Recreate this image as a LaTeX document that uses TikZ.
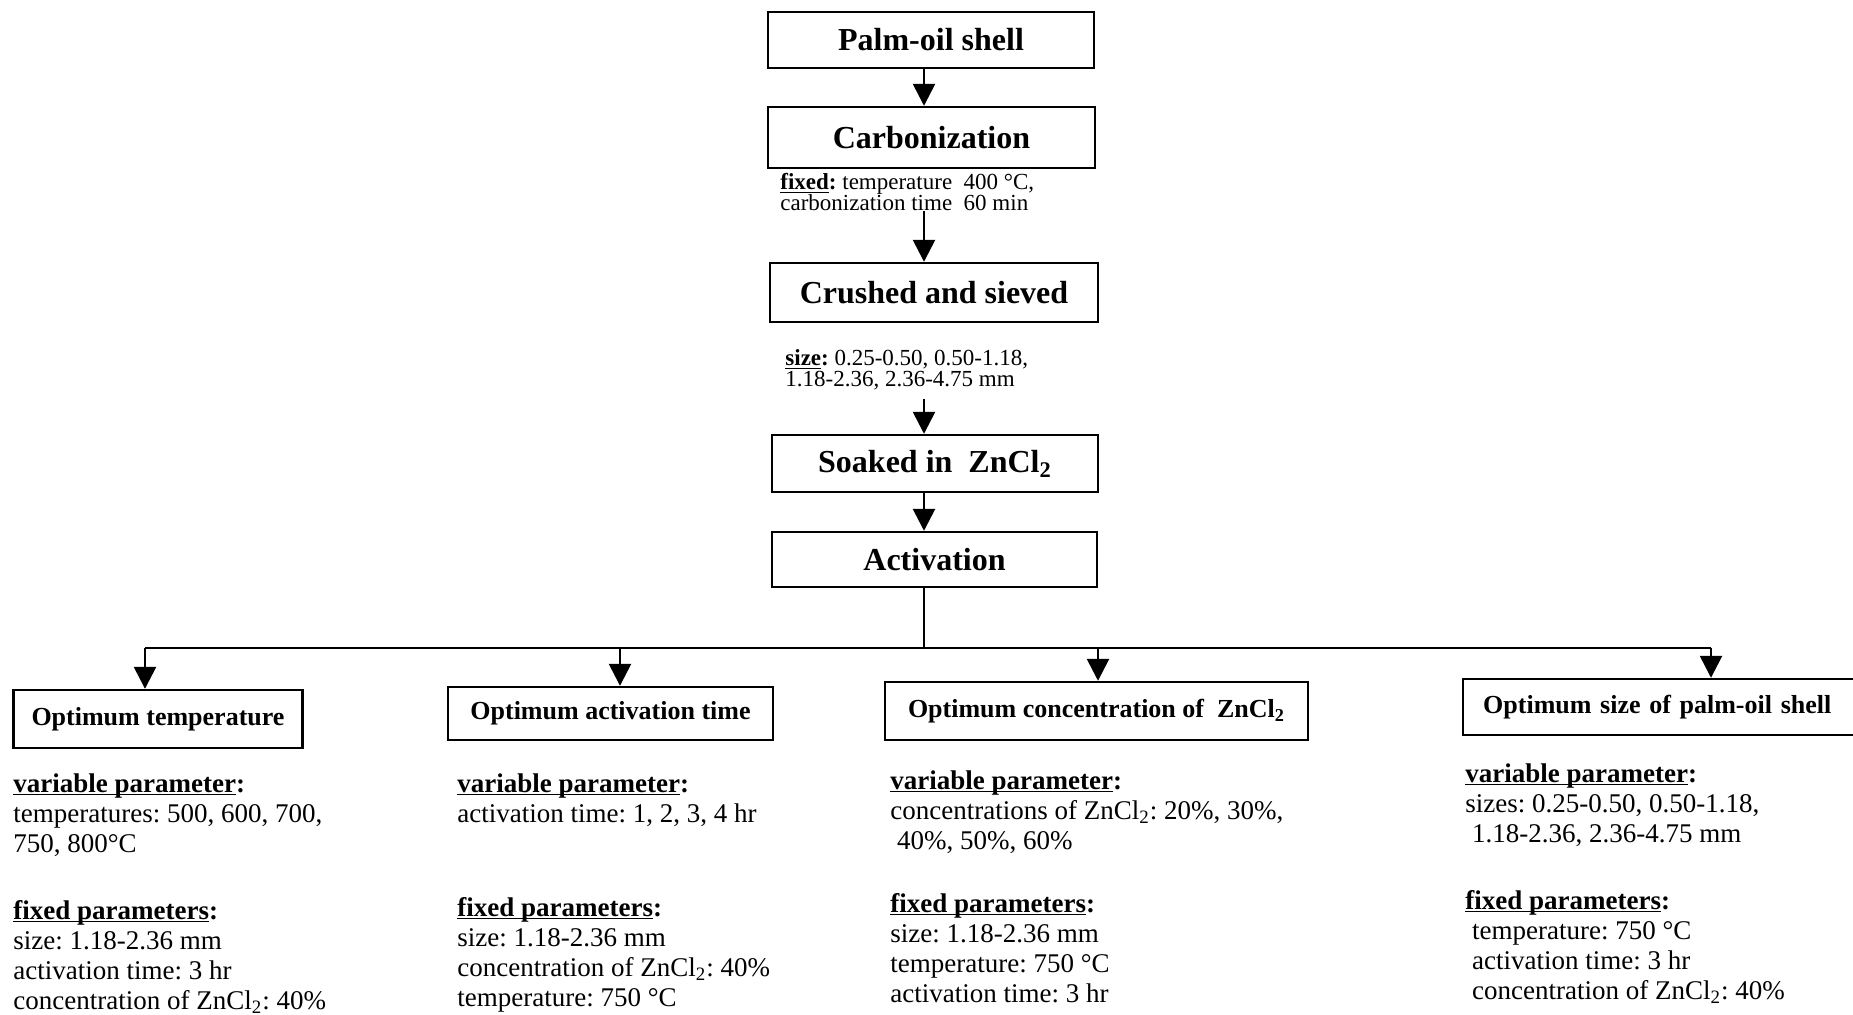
\documentclass[tikz,border=0pt]{standalone}
\usepackage{fontspec}
\setmainfont{Liberation Serif}
\usetikzlibrary{arrows.meta, positioning}
\newcommand{\uword}[1]{\underline{\smash{\textbf{#1}}}\textbf{:}}
\frenchspacing

\begin{document}
\begin{tikzpicture}
			[x=0.5pt, y=-0.5pt,
			box/.style={draw, line width=1.2pt, inner sep=0pt, font=\fontsize{16}{18}\selectfont\bfseries},
			optbox/.style={draw, line width=1.2pt, inner sep=0pt, font=\fontsize{13}{15}\selectfont\bfseries},
			note/.style={anchor=north west, inner sep=0pt, align=left, font=\fontsize{11.5}{10.5}\selectfont},
			param/.style={anchor=north west, inner sep=0pt, align=left, font=\fontsize{13.5}{15}\selectfont},
			arr/.style={line width=1.3pt, -{Triangle[width=11pt, length=11pt]}},
			link/.style={line width=1.3pt}]
			\path[use as bounding box, clip] (0,0) rectangle (1853,1015);

			\node[box, minimum width=163pt, minimum height=28pt] (palm) at (931,40) {Palm-oil shell};
			\node[box, minimum width=163.5pt, minimum height=30.5pt] (carb) at (931.5,137.5) {Carbonization};
			\node[note] (carbnote) at (780,174) {\uword{fixed} temperature\ \ 400 °C,\\carbonization time\ \ 60 min};
			\node[box, minimum width=164pt, minimum height=29.5pt] (crush) at (934,292.5) {Crushed and sieved};
			\node[note] (sizenote) at (785,350) {\uword{size} 0.25-0.50, 0.50-1.18,\\1.18-2.36, 2.36-4.75 mm};
			\node[box, minimum width=163pt, minimum height=28.5pt] (soak) at (935,463.5) {Soaked in\ \ ZnCl\textsubscript{2}};
			\node[box, minimum width=162.5pt, minimum height=27.5pt] (act) at (934.5,559.5) {Activation};

			\coordinate (spine) at (924,0);
			\coordinate (tapT) at (145,648);
			\coordinate (tapA) at (620,648);
			\coordinate (tapC) at (1098,648);
			\coordinate (tapS) at (1711,648);

			\node[optbox, minimum width=144.5pt, minimum height=29pt] (optT) at (158,719) {Optimum temperature};
			\node[optbox, minimum width=162.5pt, minimum height=26.5pt] (optA) at (610.5,713.5) {Optimum activation time};
			\node[optbox, minimum width=211.5pt, minimum height=29pt] (optC) at (1096.5,711) {Optimum concentration of\ \ ZnCl\textsubscript{2}};
			\node[optbox, anchor=west, text width=210pt, inner xsep=10pt, minimum height=28pt] (optS) at (1462,707) {Optimum size of palm-oil shell};

			\node[param] (varT) at (13,779) {\uword{variable parameter}\\temperatures: 500, 600, 700,\\750, 800°C};
			\node[param] (fixT) at (13,906) {\uword{fixed parameters}\\size: 1.18-2.36 mm\\activation time: 3 hr\\concentration of ZnCl\textsubscript{2}: 40\%};
			\node[param] (varA) at (457,779) {\uword{variable parameter}\\activation time: 1, 2, 3, 4 hr};
			\node[param] (fixA) at (457,903) {\uword{fixed parameters}\\size: 1.18-2.36 mm\\concentration of ZnCl\textsubscript{2}: 40\%\\temperature: 750 °C};
			\node[param] (varC) at (890,776) {\uword{variable parameter}\\concentrations of ZnCl\textsubscript{2}: 20\%, 30\%,\\\ 40\%, 50\%, 60\%};
			\node[param] (fixC) at (890,899) {\uword{fixed parameters}\\size: 1.18-2.36 mm\\temperature: 750 °C\\activation time: 3 hr};
			\node[param] (varS) at (1465,769) {\uword{variable parameter}\\sizes: 0.25-0.50, 0.50-1.18,\\\ 1.18-2.36, 2.36-4.75 mm};
			\node[param] (fixS) at (1465,896) {\uword{fixed parameters}\\\ temperature: 750 °C\\\ activation time: 3 hr\\\ concentration of ZnCl\textsubscript{2}: 40\%};

			\draw[arr] (palm.south -| spine) -- (carb.north -| spine);
			\draw[arr] (carbnote.south -| spine) -- (crush.north -| spine);
			\draw[arr, shorten <=4pt] (sizenote.south -| spine) -- (soak.north -| spine);
			\draw[arr] (soak.south -| spine) -- (act.north -| spine);
			\draw[link] (act.south -| spine) -- (spine |- tapT);
			\draw[link] (tapT) -- (tapS);
			\foreach \b/\t in {optT/tapT, optA/tapA, optC/tapC, optS/tapS}
				\draw[arr] (\t) -- (\b.north -| \t);
		\end{tikzpicture}
\end{document}
